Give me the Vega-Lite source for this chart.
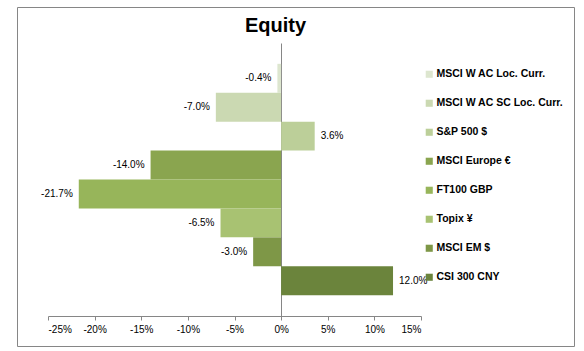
{
  "$schema": "https://vega.github.io/schema/vega-lite/v6.json",
  "width": 557,
  "height": 339,
  "autosize": {"type": "none"},
  "padding": {"left": 17, "top": 7, "right": 10, "bottom": 5},
  "background": "white",
  "title": {
    "text": "Equity",
    "font": "Liberation Sans, Arial",
    "fontSize": 20,
    "fontWeight": "bold",
    "color": "black",
    "anchor": "middle",
    "dx": -20,
    "dy": 33
  },
  "data": {
    "values": [
      {"index": "MSCI W AC Loc. Curr.", "ret": -0.004},
      {"index": "MSCI W AC SC Loc. Curr.", "ret": -0.070},
      {"index": "S&P 500 $", "ret": 0.036},
      {"index": "MSCI Europe €", "ret": -0.140},
      {"index": "FT100 GBP", "ret": -0.217},
      {"index": "Topix ¥", "ret": -0.065},
      {"index": "MSCI EM $", "ret": -0.030},
      {"index": "CSI 300 CNY", "ret": 0.120}
    ]
  },
  "encoding": {
    "y": {
      "field": "index",
      "type": "nominal",
      "sort": null,
      "scale": {"range": [36, 309], "paddingInner": 0, "paddingOuter": 0.72},
      "axis": {
        "orient": "left",
        "offset": -264,
        "title": null,
        "labels": false,
        "ticks": false,
        "domainColor": "#868686",
        "domainWidth": 1
      }
    },
    "x": {
      "field": "ret",
      "type": "quantitative",
      "scale": {"domain": [-0.25, 0.15], "range": [31, 404], "nice": false, "zero": false},
      "axis": {
        "orient": "bottom",
        "offset": -30,
        "values": [-0.25, -0.2, -0.15, -0.1, -0.05, 0, 0.05, 0.1, 0.15],
        "format": ".0%",
        "title": null,
        "grid": false,
        "domainColor": "#868686",
        "tickColor": "#868686",
        "tickSize": 4,
        "labelFont": "Liberation Sans, Arial",
        "labelFontSize": 10,
        "labelColor": "black",
        "labelPadding": 4
      }
    }
  },
  "layer": [
    {
      "mark": {"type": "bar", "orient": "horizontal"},
      "encoding": {
        "x2": {"datum": 0},
        "color": {
          "field": "index",
          "type": "nominal",
          "sort": null,
          "scale": {
            "domain": ["MSCI W AC Loc. Curr.", "MSCI W AC SC Loc. Curr.", "S&P 500 $", "MSCI Europe €", "FT100 GBP", "Topix ¥", "MSCI EM $", "CSI 300 CNY"],
            "range": ["#dde6cf", "#cbd9b2", "#bccf99", "#8aa54f", "#97b55a", "#a8c272", "#7e9747", "#6b843c"]
          },
          "legend": {
            "title": null,
            "orient": "none",
            "legendX": 407,
            "legendY": 62,
            "symbolType": "square",
            "symbolSize": 50,
            "symbolStrokeWidth": 0,
            "labelFont": "Liberation Sans, Arial",
            "labelFontSize": 10.5,
            "labelFontWeight": "bold",
            "labelColor": "black",
            "labelOffset": 2,
            "rowPadding": 18,
            "labelLimit": 300
          }
        }
      }
    },
    {
      "transform": [{"filter": "datum.ret < 0"}],
      "mark": {"type": "text", "align": "right", "baseline": "middle", "dx": -6, "font": "Liberation Sans, Arial", "fontSize": 10, "color": "black"},
      "encoding": {"text": {"field": "ret", "type": "quantitative", "format": ".1%"}}
    },
    {
      "transform": [{"filter": "datum.ret >= 0"}],
      "mark": {"type": "text", "align": "left", "baseline": "middle", "dx": 6, "font": "Liberation Sans, Arial", "fontSize": 10, "color": "black"},
      "encoding": {"text": {"field": "ret", "type": "quantitative", "format": ".1%"}}
    }
  ],
  "config": {
    "view": {"stroke": "#868686", "strokeWidth": 1},
    "locale": {"number": {"decimal": ".", "thousands": ",", "grouping": [3], "currency": ["$", ""], "minus": "-"}}
  }
}
